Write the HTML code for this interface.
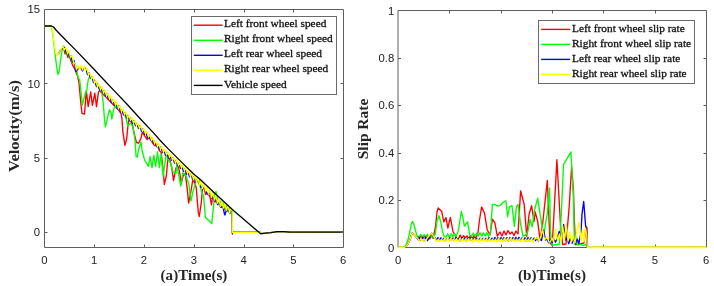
<!DOCTYPE html>
<html><head><meta charset="utf-8"><style>
html,body{margin:0;padding:0;background:#fff;}
body{width:714px;height:286px;overflow:hidden;}
svg{display:block;}
.tk{font-family:"Liberation Sans",Arial,sans-serif;font-size:11.3px;fill:#222;}
.lg{font-family:"Liberation Serif","Times New Roman",serif;font-size:11.35px;fill:#111;stroke:#111;stroke-width:0.3px;}
.al{font-family:"Liberation Serif","Times New Roman",serif;font-size:14.5px;font-weight:bold;fill:#262626;}
polyline{fill:none;stroke-width:1.35;stroke-linejoin:round;stroke-linecap:round;}
</style></head><body>
<svg width="714" height="286" viewBox="0 0 714 286">
<defs>
<clipPath id="cl"><rect x="44" y="9" width="300" height="239"/></clipPath>
<clipPath id="cr"><rect x="398" y="10" width="309" height="238"/></clipPath>
</defs>
<rect width="714" height="286" fill="#fff"/>
<polyline clip-path="url(#cl)" points="58.5,54.0 60.5,50.0 63.6,47.0 65.0,53.9 66.5,52.3 68.0,57.5 69.5,55.8 71.0,61.1 72.8,65.4 75.0,69.5 77.7,76.6 79.1,83.6 80.7,101.9 82.0,113.4 84.5,114.0 86.3,90.6 88.2,106.6 90.7,91.9 92.4,105.3 94.8,93.1 96.5,106.6 98.5,91.9 99.7,90.6 102.3,93.5 104.9,96.0 107.2,98.4 109.5,100.8 112.6,104.0 115.7,107.2 118.8,110.4 121.1,113.7 121.9,118.4 122.9,131.9 124.9,145.4 126.6,139.3 128.3,122.1 129.8,118.4 132.5,126.0 135.4,138.3 136.5,142.5 138.6,143.2 141.0,138.3 142.3,132.2 144.7,135.8 147.2,139.5 149.6,137.0 152.0,142.0 154.5,145.6 157.0,144.4 159.4,150.5 161.2,152.6 163.3,171.5 164.3,184.5 166.4,175.7 168.1,155.0 169.6,158.9 171.7,167.3 173.5,180.5 175.9,168.4 178.0,164.2 180.1,175.7 181.1,184.1 183.2,175.7 185.3,173.6 187.4,190.4 188.6,203.0 190.9,191.4 193.0,178.8 196.2,187.2 198.3,212.4 199.3,216.5 201.4,201.9 202.7,186.0 204.5,189.2 205.4,194.5 207.5,193.0 209.7,196.2 211.5,204.9 213.2,192.7 215.0,202.1 216.5,199.8 218.0,204.8 219.5,203.0 221.0,207.4 222.5,205.2 224.0,209.8 225.5,206.7 227.0,211.4 228.5,208.8 230.0,213.4 231.5,211.1 232.2,212.3 232.4,234.2" stroke="#ff0000"/><polyline clip-path="url(#cl)" points="44.4,26.0 51.4,26.0 52.5,32.0 53.6,41.0 54.8,51.0 56.0,61.5 57.2,70.0 58.0,74.5 59.0,72.0 60.7,59.2 62.0,51.0 63.5,46.0 65.0,49.2 66.5,54.9 68.0,52.7 69.5,58.4 71.0,56.4 72.5,63.3 74.0,61.4 76.1,66.6 77.7,75.9 79.8,80.8 81.0,92.0 82.4,105.0 84.5,96.0 86.8,90.0 88.2,80.0 89.6,76.6 92.4,78.5 94.0,79.3 95.5,84.5 97.0,82.9 98.5,87.5 100.8,90.0 101.8,92.2 103.4,104.5 104.5,119.8 105.4,126.8 106.5,122.9 108.0,115.2 109.5,109.8 111.1,112.9 111.8,119.1 113.4,110.6 114.9,106.0 116.5,107.5 117.2,104.5 119.0,107.0 121.0,109.8 123.4,112.9 125.7,117.0 127.8,125.8 130.3,123.3 132.7,124.5 134.9,139.5 136.1,156.7 137.3,157.0 138.6,149.3 141.0,142.0 142.3,151.8 144.7,160.3 147.2,164.0 148.4,166.5 150.1,156.7 152.0,167.7 153.8,155.4 155.7,166.5 157.5,151.8 159.4,167.7 161.1,154.2 163.1,176.3 165.5,159.1 166.5,152.0 168.0,160.0 170.6,163.0 172.7,171.5 175.9,173.6 176.9,165.2 179.0,176.8 180.8,186.0 182.6,173.0 185.7,175.0 188.8,184.0 190.9,201.0 193.0,191.4 196.2,181.0 199.3,180.0 201.4,191.4 203.6,196.0 205.4,217.5 206.6,218.4 211.8,223.6 213.0,212.0 214.6,195.0 216.0,191.5 217.5,198.8 219.0,204.2 220.5,201.1 222.0,206.1 223.5,203.1 225.0,208.7 226.5,205.7 228.0,210.2 229.5,207.7 231.0,212.9 232.2,211.3 232.4,231.9 260.0,231.9" stroke="#00ff00"/><polyline clip-path="url(#cl)" points="58.5,54.0 60.5,50.0 63.3,47.5 65.0,47.7 66.5,53.6 68.0,51.4 69.5,56.9 71.0,55.7 72.5,62.0 74.0,60.5 75.8,71.5 78.0,69.0 80.5,67.5 82.5,71.0 84.0,67.5 86.0,68.8 87.5,74.6 89.0,72.6 90.5,78.4 92.0,76.8 93.5,82.5 95.0,80.5 96.5,86.6 98.0,84.2 99.5,89.8 101.0,87.2 102.5,92.7 104.0,90.4 105.5,95.9 107.0,93.6 108.5,99.0 110.0,97.1 111.5,102.5 113.0,99.8 114.5,105.4 116.0,103.0 117.5,108.6 119.0,106.0 120.5,112.0 122.0,109.6 123.5,114.9 125.0,112.5 126.5,117.8 128.0,115.4 129.5,120.8 131.0,118.0 132.5,123.6 134.0,120.5 135.5,125.7 137.0,123.5 138.5,128.5 140.0,125.6 141.5,131.4 143.0,128.6 144.5,134.4 146.0,132.2 147.5,137.7 149.0,135.1 150.5,140.4 152.0,138.0 153.5,143.4 155.0,141.3 156.5,146.6 158.0,144.3 159.5,149.6 161.0,146.9 162.5,152.6 164.0,150.1 165.5,155.3 167.0,152.6 168.5,158.0 170.0,155.3 171.5,160.3 173.0,157.8 174.5,163.1 176.0,160.2 177.5,165.6 179.0,163.1 180.5,168.4 182.0,166.0 183.5,171.5 185.0,168.5 186.5,174.2 188.0,171.6 189.5,176.9 191.0,173.9 192.5,179.1 194.0,176.5 195.5,181.8 197.0,179.1 199.0,184.0 201.0,187.5 203.0,186.0 205.4,191.0 208.0,194.5 210.0,191.8 211.5,198.3 213.0,195.0 214.5,201.1 216.0,197.9 217.5,204.3 219.0,200.6 220.5,207.1 223.0,206.5 224.2,213.0 224.9,215.0 225.8,212.0 226.8,207.5 227.5,208.1 229.0,212.1 230.5,210.1 232.2,212.3 232.4,232.4 260.0,232.4 262.0,233.6 270.0,232.7 280.0,231.7 290.0,232.2 343.0,232.1" stroke="#0000ff"/><polyline clip-path="url(#cl)" points="44.4,26.0 51.4,26.0 52.5,30.0 54.0,42.0 55.5,52.0 57.0,56.0 58.5,54.0 60.5,50.0 63.0,46.5 64.5,49.7 66.0,47.3 67.5,53.6 69.0,50.9 70.5,57.4 72.0,55.6 73.5,62.0 75.0,63.6 76.5,69.7 78.0,65.4 79.5,69.5 81.0,65.4 82.5,69.9 84.0,66.0 85.5,70.5 87.0,68.4 88.5,74.9 90.0,72.9 91.5,78.9 93.0,76.6 94.5,83.2 96.0,80.4 97.5,86.9 99.0,83.9 100.5,89.5 102.0,86.9 103.5,92.8 105.0,90.4 106.5,95.8 108.0,93.4 109.5,99.2 111.0,96.4 112.5,102.3 114.0,99.4 115.5,105.1 117.0,102.6 118.5,108.6 120.0,105.8 121.5,111.5 123.0,109.0 124.5,114.7 126.0,112.0 127.5,118.1 129.0,115.2 130.5,120.4 132.0,117.6 133.5,123.1 135.0,120.4 136.5,125.8 138.0,122.6 139.5,128.5 141.0,125.2 142.5,131.1 144.0,128.6 145.5,134.0 147.0,131.5 148.5,137.0 150.0,134.7 151.5,140.5 153.0,137.7 154.5,143.6 156.0,140.6 157.5,146.6 159.0,143.8 160.5,149.5 162.0,146.6 163.5,152.3 165.0,149.5 166.5,154.8 168.0,152.1 169.5,157.2 171.0,154.8 172.5,160.3 174.0,157.6 175.5,163.1 177.0,159.9 178.5,165.5 180.0,162.8 181.5,168.0 183.0,165.4 184.5,170.7 186.0,167.8 187.5,173.3 189.0,170.9 190.5,176.9 192.0,172.5 193.5,179.7 195.0,175.5 196.5,182.2 198.0,178.0 199.5,185.2 201.0,181.0 202.5,188.3 204.0,184.1 205.5,191.0 207.0,186.9 208.5,194.1 210.0,190.2 211.5,197.5 213.0,192.8 214.5,200.1 216.0,195.9 217.5,203.2 219.0,199.1 220.5,206.3 222.0,201.3 223.5,208.0 225.0,203.5 226.5,210.2 228.0,205.6 229.5,212.6 231.0,207.7 232.2,211.3 232.4,232.3 260.0,232.3 262.0,233.6 270.0,232.7 280.0,231.7 290.0,232.2 343.0,232.1" stroke="#ffff00"/><polyline clip-path="url(#cl)" points="44.4,26.0 51.5,26.0 53.5,27.0 56.0,30.0 60.0,34.2 75.0,49.4 94.0,69.3 100.0,75.8 116.0,92.6 128.0,105.2 140.0,118.5 154.0,133.4 160.0,140.2 168.0,148.6 184.0,164.6 194.0,174.2 200.0,179.3 214.0,192.5 234.0,211.0 244.0,219.6 260.7,233.8 263.0,233.4 271.0,232.6 277.0,231.7 284.0,231.6 290.0,232.2 343.0,232.1" stroke="#000" style="stroke-width:1.3"/>
<path d="M44.5 9.5H343.5V247.5H44.5Z" fill="none" stroke="#5e5e5e" stroke-width="1"/>
<path d="M94.5 247.5v-3M94.5 9.5v3M144.5 247.5v-3M144.5 9.5v3M194.5 247.5v-3M194.5 9.5v3M244.5 247.5v-3M244.5 9.5v3M293.5 247.5v-3M293.5 9.5v3M44.5 232.5h3M343.5 232.5h-3M44.5 158.5h3M343.5 158.5h-3M44.5 83.5h3M343.5 83.5h-3" stroke="#5e5e5e" stroke-width="1" fill="none"/>
<g class="tk"><text x="44.4" y="263.5" text-anchor="middle">0</text><text x="94.2" y="263.5" text-anchor="middle">1</text><text x="144.0" y="263.5" text-anchor="middle">2</text><text x="193.8" y="263.5" text-anchor="middle">3</text><text x="243.6" y="263.5" text-anchor="middle">4</text><text x="293.4" y="263.5" text-anchor="middle">5</text><text x="343.2" y="263.5" text-anchor="middle">6</text><text x="40" y="236.3" text-anchor="end">0</text><text x="40" y="161.9" text-anchor="end">5</text><text x="40" y="87.6" text-anchor="end">10</text><text x="40" y="13.3" text-anchor="end">15</text></g>
<rect x="191.5" y="16.5" width="145.0" height="78.0" fill="#fff" stroke="#6a6a6a" stroke-width="1"/><line x1="193.8" y1="25.2" x2="222.6" y2="25.2" stroke="#ff0000" stroke-width="1.4"/><text class="lg" x="224.0" y="27.4">Left front wheel speed</text><line x1="193.8" y1="40.3" x2="222.6" y2="40.3" stroke="#00ff00" stroke-width="1.4"/><text class="lg" x="224.0" y="42.4">Right front wheel speed</text><line x1="193.8" y1="55.3" x2="222.6" y2="55.3" stroke="#0000ff" stroke-width="1.4"/><text class="lg" x="224.0" y="57.4">Left rear wheel speed</text><line x1="193.8" y1="70.3" x2="222.6" y2="70.3" stroke="#ffff00" stroke-width="1.4"/><text class="lg" x="224.0" y="72.4">Right rear wheel speed</text><line x1="193.8" y1="85.4" x2="222.6" y2="85.4" stroke="#000" stroke-width="1.4"/><text class="lg" x="224.0" y="87.5">Vehicle speed</text>
<text class="al" transform="translate(18.6,126) rotate(-90)" text-anchor="middle" textLength="92" lengthAdjust="spacingAndGlyphs">Velocity(m/s)</text>
<text class="al" x="194" y="279.6" text-anchor="middle" textLength="66.8" lengthAdjust="spacingAndGlyphs">(a)Time(s)</text>
<path d="M398.0 10.5H706.5V247.5H398.0Z" fill="none" stroke="#5e5e5e" stroke-width="1"/>
<path d="M449.5 247.5v-3M449.5 10.5v3M501.5 247.5v-3M501.5 10.5v3M552.5 247.5v-3M552.5 10.5v3M603.5 247.5v-3M603.5 10.5v3M655.5 247.5v-3M655.5 10.5v3M398.0 200.5h3M706.5 200.5h-3M398.0 153.5h3M706.5 153.5h-3M398.0 105.5h3M706.5 105.5h-3M398.0 58.5h3M706.5 58.5h-3" stroke="#5e5e5e" stroke-width="1" fill="none"/>
<polyline clip-path="url(#cr)" points="398.0,247.2 404.6,247.2 406.0,246.5 408.0,244.0 410.0,239.5 411.5,235.0 412.3,233.0 414.0,234.5 416.0,236.8 418.0,237.0 419.5,238.2 421.2,235.6 422.9,238.5 424.6,235.8 426.3,238.7 428.0,235.7 429.7,238.9 431.4,235.4 433.1,238.3 435.6,226.0 437.0,212.0 438.2,207.9 441.7,211.4 443.8,221.9 446.0,217.5 447.8,228.0 450.4,217.5 453.0,231.5 454.8,235.0 456.8,238.5 458.5,239.0 460.2,235.1 461.9,238.7 463.6,235.6 465.3,238.0 467.0,235.8 468.7,238.9 470.4,235.6 472.1,238.7 473.8,235.8 475.5,238.1 477.8,234.0 479.5,220.0 481.6,207.0 484.5,213.1 487.2,229.7 490.0,235.0 492.4,219.1 494.9,222.8 497.3,236.2 500.0,232.0 502.0,236.0 504.0,231.0 506.0,235.0 508.0,230.5 510.0,234.0 512.0,232.0 514.0,235.5 516.0,231.0 518.0,234.0 520.6,191.0 524.2,204.4 526.7,236.2 529.1,214.2 531.6,205.7 534.0,221.6 535.2,211.8 537.7,221.6 540.1,239.9 542.6,224.0 547.3,180.5 550.0,242.5 552.2,245.7 556.9,159.7 560.6,226.8 562.7,244.6 566.0,244.0 569.2,206.8 571.6,167.0 573.4,190.0 574.4,221.5 575.5,244.6 580.0,244.0 584.0,243.0 586.0,226.8 587.0,227.8 587.5,247.2" stroke="#ff0000"/><polyline clip-path="url(#cr)" points="398.0,247.2 404.5,247.2 406.0,245.0 407.5,241.0 408.5,237.7 410.0,231.0 411.2,224.5 412.4,221.5 413.6,223.5 415.0,228.5 416.5,234.0 417.8,237.0 419.0,237.3 420.7,234.2 422.4,237.3 424.1,234.5 425.8,237.2 427.5,234.4 429.2,237.3 430.9,235.0 432.6,238.0 435.3,234.0 437.0,221.0 439.0,215.7 441.0,223.0 442.5,232.0 444.3,236.7 446.0,237.0 447.7,233.7 449.4,237.5 451.1,233.8 452.8,236.9 454.5,233.5 456.2,236.9 458.5,230.0 461.3,211.4 463.0,218.0 464.4,226.2 467.6,221.9 469.7,235.0 471.5,236.5 473.2,233.0 474.9,236.2 476.6,233.0 478.3,236.0 480.0,232.8 481.7,236.1 483.4,232.9 485.1,236.0 486.8,232.5 488.5,236.3 490.5,232.6 492.4,204.4 494.9,204.4 497.5,206.0 499.8,205.7 503.4,202.0 505.9,200.8 507.6,216.7 509.6,206.9 512.0,205.7 514.4,226.5 516.4,206.9 518.1,204.4 520.6,224.0 523.0,236.2 526.0,235.0 528.0,231.0 530.1,219.4 532.2,226.8 534.5,210.0 537.7,198.3 541.3,221.6 543.8,236.0 545.5,224.0 547.5,211.8 549.6,188.0 550.5,232.0 552.2,245.3 559.5,244.0 561.5,210.0 563.5,164.6 570.9,151.9 573.3,194.0 574.4,244.6 576.0,236.0 577.5,245.0 580.0,244.0 583.0,245.5 586.3,244.5 587.0,247.2" stroke="#00ff00"/><polyline clip-path="url(#cr)" points="398.0,247.2 404.6,247.2 406.0,246.5 408.0,244.0 410.0,239.5 411.5,235.0 412.3,233.0 414.0,234.5 416.0,236.8 418.5,240.0 419.0,237.3 420.7,240.2 422.4,237.3 424.1,240.7 425.8,237.0 427.5,240.6 430.0,236.0 431.6,233.0 433.5,237.5 435.0,237.7 436.5,240.3 438.0,237.6 439.5,240.9 441.0,237.8 442.5,240.4 444.0,238.3 445.5,241.1 447.0,238.3 448.5,240.4 450.0,237.6 451.5,240.3 453.0,238.1 454.5,240.6 456.0,237.4 457.5,240.7 459.0,238.2 460.5,241.1 462.0,237.6 463.5,240.4 465.0,238.2 466.5,240.9 468.0,238.0 469.5,240.4 471.0,237.4 472.5,241.0 474.0,237.7 475.5,240.4 477.0,238.2 478.5,240.9 480.0,238.1 481.5,240.4 483.0,238.2 484.5,240.4 486.0,238.2 487.5,240.8 489.0,237.6 490.5,240.9 492.0,238.2 493.5,240.6 495.0,237.4 496.5,240.8 498.0,237.5 499.5,240.4 501.0,237.5 502.5,240.4 504.0,237.5 505.5,240.6 507.0,237.6 508.5,241.1 510.0,237.6 511.5,240.8 513.0,237.5 514.5,240.6 516.0,237.3 517.5,240.6 519.0,237.3 520.5,241.0 522.0,237.9 523.5,240.5 525.0,237.8 526.5,241.2 528.0,237.4 529.5,241.1 531.0,237.7 532.5,240.8 534.0,238.1 535.5,240.7 537.0,237.8 538.5,241.0 540.0,238.3 541.5,240.6 543.5,229.7 545.5,240.0 547.0,239.3 548.7,242.7 550.4,239.1 552.1,242.4 553.8,238.8 555.5,242.1 557.2,238.6 559.2,231.5 561.0,240.0 563.6,224.5 565.5,240.0 567.0,238.1 568.7,243.7 570.4,238.3 572.1,243.2 573.8,238.1 575.5,243.8 577.2,238.9 578.9,243.7 581.0,232.0 582.0,214.0 583.7,201.5 585.5,224.5 586.5,232.0 587.0,247.2 706.0,247.2" stroke="#0000ff"/><polyline clip-path="url(#cr)" points="398.0,247.2 404.6,247.2 406.0,246.5 408.0,244.0 410.0,239.5 411.5,235.0 412.3,233.0 414.0,234.5 416.0,236.8 417.5,238.2 419.5,241.2 421.0,238.4 422.5,241.1 424.0,239.0 425.5,241.3 427.0,238.4 429.0,236.0 431.5,233.0 433.5,236.5 435.5,239.0 437.0,241.7 438.5,239.1 440.0,241.5 441.5,239.1 443.0,241.6 444.5,238.6 446.0,241.6 447.5,238.0 449.0,241.5 450.5,238.2 452.0,241.0 453.5,239.0 455.0,241.2 456.5,238.6 458.0,241.9 459.5,238.7 461.0,241.4 462.5,238.6 464.0,241.7 465.5,238.9 467.0,241.1 468.5,238.7 470.0,241.3 471.5,238.3 473.0,241.9 474.5,238.6 476.0,241.7 477.5,238.9 479.0,242.1 480.5,238.5 482.0,241.7 483.5,238.6 485.0,241.6 486.5,238.8 488.0,241.5 489.5,238.6 491.0,241.6 492.5,239.1 494.0,241.8 495.5,239.1 497.0,242.1 498.5,238.3 500.0,241.7 501.5,239.1 503.0,242.0 504.5,238.2 506.0,241.1 507.5,238.5 509.0,241.1 510.5,238.3 512.0,241.1 513.5,238.8 515.0,241.9 516.5,239.1 518.0,241.2 519.5,238.9 521.0,241.8 522.5,238.2 524.0,242.1 525.5,239.2 527.0,241.3 528.5,239.1 530.0,241.5 531.5,238.6 533.0,242.2 534.5,239.0 537.5,238.0 539.0,241.0 541.0,236.0 542.6,229.0 544.5,240.0 547.0,237.0 549.0,242.0 550.5,241.6 552.0,237.9 553.5,242.0 555.7,229.0 557.5,241.0 559.5,234.0 561.0,242.0 562.7,226.0 564.5,240.0 566.2,224.0 568.0,241.0 569.8,232.0 571.5,242.0 573.2,236.0 575.0,243.0 577.0,231.0 579.3,222.0 581.0,241.0 582.5,230.0 584.0,242.0 585.5,228.0 586.8,236.0 587.2,247.2 706.0,247.2" stroke="#ffff00"/><path d="M398 247.4H404.6M587.2 247.4H706.5" stroke="#ffff00" stroke-width="1.9" fill="none"/>
<g class="tk"><text x="398.2" y="263.5" text-anchor="middle">0</text><text x="449.5" y="263.5" text-anchor="middle">1</text><text x="500.9" y="263.5" text-anchor="middle">2</text><text x="552.2" y="263.5" text-anchor="middle">3</text><text x="603.5" y="263.5" text-anchor="middle">4</text><text x="654.8" y="263.5" text-anchor="middle">5</text><text x="706.2" y="263.5" text-anchor="middle">6</text><text x="394.2" y="251.5" text-anchor="end">0</text><text x="394.2" y="204.1" text-anchor="end">0.2</text><text x="394.2" y="156.8" text-anchor="end">0.4</text><text x="394.2" y="109.4" text-anchor="end">0.6</text><text x="394.2" y="62.1" text-anchor="end">0.8</text><text x="394.2" y="14.7" text-anchor="end">1</text></g>
<rect x="538.5" y="20.5" width="156.0" height="63.0" fill="#fff" stroke="#6a6a6a" stroke-width="1"/><line x1="541.2" y1="29.4" x2="570.1" y2="29.4" stroke="#ff0000" stroke-width="1.4"/><text class="lg" x="572.0" y="31.5">Left front wheel slip rate</text><line x1="541.2" y1="44.4" x2="570.1" y2="44.4" stroke="#00ff00" stroke-width="1.4"/><text class="lg" x="572.0" y="46.5">Right front wheel slip rate</text><line x1="541.2" y1="59.4" x2="570.1" y2="59.4" stroke="#0000ff" stroke-width="1.4"/><text class="lg" x="572.0" y="61.5">Left rear wheel slip rate</text><line x1="541.2" y1="74.4" x2="570.1" y2="74.4" stroke="#ffff00" stroke-width="1.4"/><text class="lg" x="572.0" y="76.5">Right rear wheel slip rate</text>
<text class="al" transform="translate(368,129) rotate(-90)" text-anchor="middle" textLength="60.5" lengthAdjust="spacingAndGlyphs">Slip Rate</text>
<text class="al" x="552" y="279.6" text-anchor="middle" textLength="68" lengthAdjust="spacingAndGlyphs">(b)Time(s)</text>
</svg>
</body></html>
